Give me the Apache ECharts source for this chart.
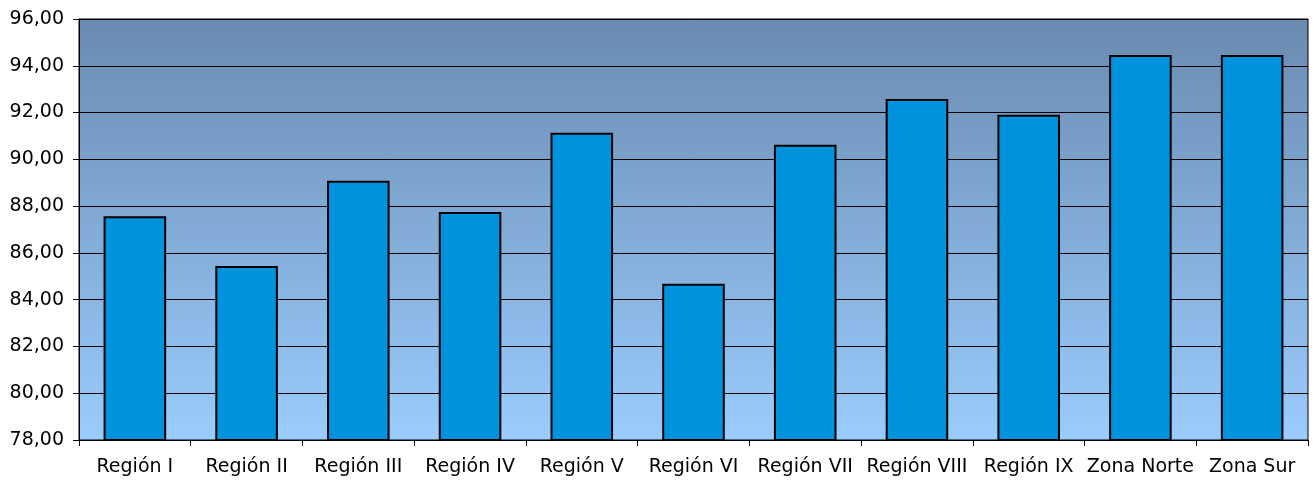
<!DOCTYPE html>
<html><head><meta charset="utf-8">
<script src="https://cdn.jsdelivr.net/npm/echarts@6/dist/echarts.min.js"></script>
<style>html,body{margin:0;padding:0;background:#fff}#c{width:1316px;height:484px}</style>
</head><body><div id="c"></div>
<script>
const categories = ['Región I','Región II','Región III','Región IV','Región V','Región VI','Región VII','Región VIII','Región IX','Zona Norte','Zona Sur'];
const values = [87.57, 85.44, 89.08, 87.75, 91.14, 84.68, 90.62, 92.58, 91.91, 94.46, 94.46];
const yMin = 78, yMax = 96, yStep = 2;

const chart = echarts.init(document.getElementById('c'));
chart.setOption({
  animation: false,
  grid: {
    left: 79, right: 8, top: 19, bottom: 44,
    show: true,
    borderColor: '#000', borderWidth: 1,
    backgroundColor: new echarts.graphic.LinearGradient(0, 0, 0, 1, [
      {offset: 0, color: '#6a8bb1'},
      {offset: 1, color: '#9accfd'}
    ])
  },
  xAxis: {
    type: 'category', data: categories,
    axisLine: {lineStyle: {color: '#000', width: 1}},
    axisTick: {show: true, alignWithLabel: false, length: 6, lineStyle: {color: '#000'}},
    axisLabel: {color: '#000', fontFamily: 'DejaVu Sans', fontSize: 19, margin: 18, interval: 0}
  },
  yAxis: {
    type: 'value', min: yMin, max: yMax, interval: yStep,
    axisLine: {show: true, lineStyle: {color: '#000', width: 1}},
    axisTick: {show: true, length: 6, lineStyle: {color: '#000'}},
    splitLine: {show: true, lineStyle: {color: '#000', width: 1}},
    axisLabel: {color: '#000', fontFamily: 'DejaVu Sans', fontSize: 19, margin: 15,
      formatter: v => v.toFixed(2).replace('.', ',')}
  },
  series: [{
    type: 'bar', data: values, barCategoryGap: '44%',
    itemStyle: {color: '#0093dd', borderColor: '#000', borderWidth: 2}
  }]
});
</script></body></html>
